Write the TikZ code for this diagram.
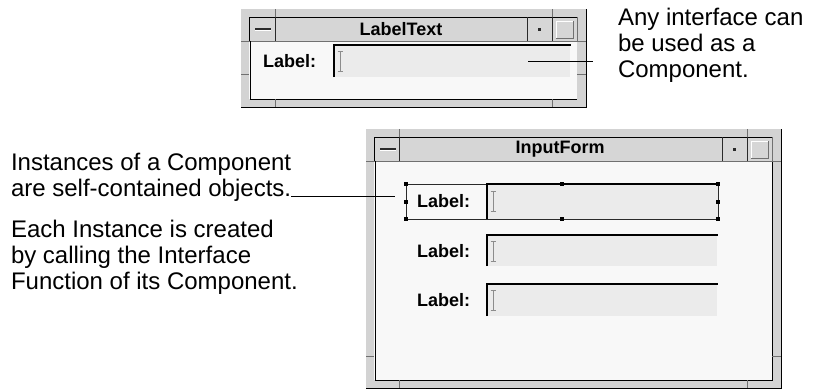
\documentclass[tikz,border=0pt]{standalone}
\usepackage{fontspec}
\setmainfont{Liberation Sans}
\definecolor{framegray}{HTML}{D3D3D3}
\definecolor{titlegray}{HTML}{D6D6D6}
\definecolor{clientbg}{HTML}{F8F8F8}
\definecolor{fieldbg}{HTML}{EBEBEB}
\definecolor{darkline}{HTML}{2A2A2A}
\definecolor{tickgray}{HTML}{707070}
\definecolor{beamgray}{HTML}{8C8C8C}
\tikzset{
  lbl/.style={font=\fontsize{18}{20}\selectfont\bfseries, inner sep=0pt, outer sep=0pt, anchor=west},
  ttl/.style={font=\fontsize{18}{20}\selectfont\bfseries, inner sep=0pt, outer sep=0pt},
  body/.style={font=\fontsize{24}{26}\selectfont, inner sep=0pt, outer sep=0pt, anchor=base west},
  blk/.style={draw=black, line width=1pt},
  sep/.style={draw=darkline, line width=1pt},
  tick/.style={draw=tickgray, line width=1pt},
  leader/.style={draw=black, line width=1pt},
  fieldtop/.style={draw=black, line width=1.6pt},
  beam/.style={draw=beamgray, line width=1pt},
  handle/.style={fill=black, minimum size=4pt, inner sep=0pt, outer sep=0pt, draw=none},
  selbox/.style={draw=darkline, line width=0.8pt}
}
\begin{document}
\begin{tikzpicture}[x=1pt,y=-1pt]
\useasboundingbox (0,0) rectangle (816,389);
\fill[white] (0,0) rectangle (816,389);

% ================= Window 1: LabelText =================
\fill[framegray] (241,9) rectangle (586,107);
\fill[titlegray] (249,17) rectangle (577,41);
\fill[clientbg] (249,41) rectangle (577,99);
% frame shadow
\draw[blk] (586,9) -- (586,107) -- (241,107);
% title bar edges and separators
\draw[blk] (249,41) -- (249,17) -- (577,17);
\draw[tick] (249,41) -- (577,41);
\draw[sep] (275,17) -- (275,41);
\draw[sep] (527,17) -- (527,41);
\draw[sep] (552,17) -- (552,41);
\draw[tick] (577,17) -- (577,41);
% client edges
\draw[blk] (250,41) -- (250,99) -- (577,99);
% resize ticks
\draw[tick] (275,9) -- (275,17) (552,9) -- (552,17);
\draw[tick] (275,99) -- (275,107) (552,99) -- (552,107);
\draw[tick] (241,41) -- (249,41) (241,74) -- (249,74);
\draw[tick] (577,41) -- (586,41) (577,74) -- (586,74);
% buttons
\draw[darkline, line width=1.5pt] (255,29) -- (271,29);
\draw[white, line width=0.8pt] (255,30.6) -- (271,30.6);
\fill[darkline] (538,27.5) rectangle (541,30.5);
\draw[white, line width=1pt] (556,38) -- (556,21) -- (573,21);
\draw[tickgray, line width=1pt] (556,38) -- (573,38) -- (573,21);
\node[ttl] (t1) at (401,29) {LabelText};
% field
\node[lbl] (l1) at (263,61) {Label:};
\fill[fieldbg] (334,45) rectangle (570,77);
\draw[fieldtop] (334,77) -- (334,45) -- (571,45);
\draw[beam] (340,51) -- (340,71) (337.5,51) -- (342.5,51) (337.5,71) -- (342.5,71);
% callout
\coordinate (c1a) at (528,61);
\coordinate (c1b) at (593,61);
\draw[leader] (c1a) -- (c1b);
\node[body] (r1) at (618,25) {Any interface can};
\node[body] (r2) at (618,51) {be used as a};
\node[body] (r3) at (618,77) {Component.};

% ================= Window 2: InputForm =================
\fill[framegray] (366,129) rectangle (781,388);
\fill[titlegray] (374,137) rectangle (772,161);
\fill[clientbg] (374,161) rectangle (772,380);
\draw[blk] (781,129) -- (781,388) -- (366,388);
\draw[blk] (374,161) -- (374,137) -- (772,137);
\draw[tick] (374,161) -- (772,161);
\draw[sep] (399,137) -- (399,161);
\draw[sep] (722,137) -- (722,161);
\draw[sep] (747,137) -- (747,161);
\draw[tick] (772,137) -- (772,161);
\draw[blk] (375,161) -- (375,380) -- (772,380) -- (772,161);
\draw[tick] (399,129) -- (399,137) (747,129) -- (747,137);
\draw[tick] (399,380) -- (399,388) (747,380) -- (747,388);
\draw[tick] (366,161) -- (374,161) (366,356) -- (374,356);
\draw[tick] (772,161) -- (781,161) (772,356) -- (781,356);
\draw[darkline, line width=1.5pt] (380,149) -- (396,149);
\draw[white, line width=0.8pt] (380,150.6) -- (396,150.6);
\fill[darkline] (733,147.5) rectangle (736,150.5);
\draw[white, line width=1pt] (751,158) -- (751,141) -- (768,141);
\draw[tickgray, line width=1pt] (751,158) -- (768,158) -- (768,141);
\node[ttl] (t2) at (560,149) {InputForm};

% field 1 (selected)
\fill[fieldbg] (487,184) rectangle (718,219);
\draw[selbox] (406,184) rectangle (718,219);
\draw[fieldtop] (487,219) -- (487,184) -- (718,184);
\draw[beam] (493,191) -- (493,211) (490.5,191) -- (495.5,191) (490.5,211) -- (495.5,211);
\node[lbl] (l2) at (417,201.5) {Label:};
\node[handle] (h1) at (406,184) {};
\node[handle] (h2) at (562,184) {};
\node[handle] (h3) at (718,184) {};
\node[handle] (h4) at (406,201.5) {};
\node[handle] (h5) at (718,201.5) {};
\node[handle] (h6) at (406,219) {};
\node[handle] (h7) at (562,219) {};
\node[handle] (h8) at (718,219) {};
% field 2
\fill[fieldbg] (487,235) rectangle (717,266);
\draw[fieldtop] (487,266) -- (487,235) -- (718,235);
\draw[beam] (493,241) -- (493,261) (490.5,241) -- (495.5,241) (490.5,261) -- (495.5,261);
\node[lbl] (l3) at (417,251) {Label:};
% field 3
\fill[fieldbg] (487,284) rectangle (717,316);
\draw[fieldtop] (487,316) -- (487,284) -- (718,284);
\draw[beam] (493,290) -- (493,310) (490.5,290) -- (495.5,290) (490.5,310) -- (495.5,310);
\node[lbl] (l4) at (417,300) {Label:};

% left text
\node[body] (p1) at (11,170) {Instances of a Component};
\node[body] (p2) at (11,196) {are self-contained objects.};
\node[body] (p3) at (11,237) {Each Instance is created};
\node[body] (p4) at (11,263) {by calling the Interface};
\node[body] (p5) at (11,289) {Function of its Component.};
\coordinate (c2a) at (p2.base east);
\coordinate (c2b) at (395,196);
\draw[leader] (c2a) -- (c2b);
\end{tikzpicture}
\end{document}
